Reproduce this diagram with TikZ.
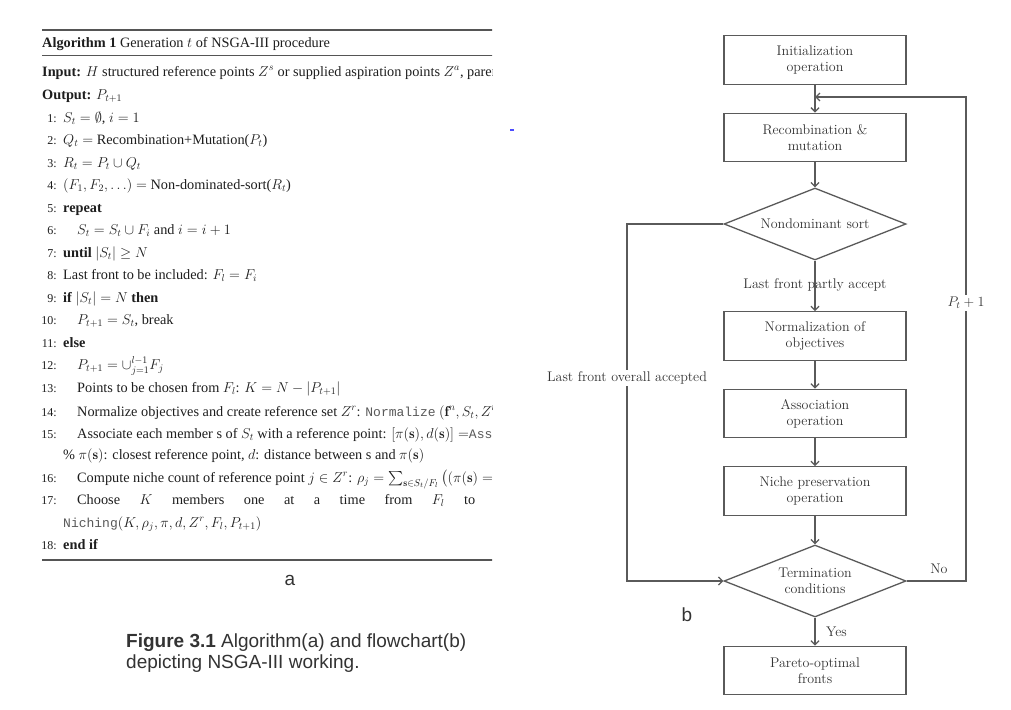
\RequirePackage{fix-cm}
\documentclass[tikz,border=0pt]{standalone}
\usepackage{amsmath,amssymb}
\usepackage{fontspec}
\newfontfamily\algf{Liberation Serif}
\newfontfamily\sansf{Liberation Sans}
\newfontfamily\monof{Liberation Mono}
\usetikzlibrary{shapes.geometric,arrows.meta}
\definecolor{fcline}{HTML}{5A5A5A}
\definecolor{fctext}{HTML}{333333}
\definecolor{algtext}{HTML}{1E1E1E}
\definecolor{captc}{HTML}{333333}
\definecolor{rulec}{HTML}{555555}
\newcommand\AF{\algf\fontsize{14.3}{17}\selectfont}
\newcommand\NF{\algf\fontsize{12}{14}\selectfont}
\newcommand\FF{\fontsize{14}{16}\selectfont}
\newcommand\TTx[1]{{\monof\fontsize{13}{15}\selectfont\color{black!65}#1}}
\newcommand\aln[5]{%
  \node[lnum] (num#1) at (57,#2) {#3};
  \node[ltext] (txt#1) at (#4,#2) {#5};}
\tikzset{
  lnum/.style={anchor=base east,inner sep=0pt,font=\NF,text=algtext},
  ltext/.style={anchor=base west,inner sep=0pt,font=\AF,text=algtext},
  rulel/.style={draw=rulec,line width=1.2pt},
  box/.style={draw=fcline,line width=1.3pt,minimum width=182pt,minimum height=48.5pt,
    align=center,font=\FF,text=fctext,inner sep=0pt},
  dec/.style={diamond,draw=fcline,line width=1.3pt,minimum width=182pt,minimum height=72pt,
    aspect=2.53,align=center,font=\FF,text=fctext,inner sep=0pt},
  arr/.style={draw=fcline,line width=1.3pt,-{Straight Barb[length=4pt,width=8pt]}},
  lab/.style={font=\FF,text=fctext,inner sep=1pt},
  capl/.style={anchor=base west,inner sep=0pt,text=captc,font=\sansf\fontsize{19}{22}\selectfont}
}
\begin{document}
\begin{tikzpicture}[x=1pt,y=-1pt]
\fill[white] (0,0) rectangle (1011,709);
\useasboundingbox (0,0) rectangle (1011,709);

% ---------------- Algorithm (a) ----------------
\begin{scope}
\clip (0,0) rectangle (492,709);
\draw[rulel,line width=1.5pt] (42,30) -- (493,30);
\draw[rulel,line width=1pt] (42,56) -- (493,56);
\node[ltext] (title) at (42,48) {\textbf{Algorithm 1} Generation $t$ of NSGA-III procedure};
\node[ltext] (input) at (42,76) {\textbf{Input:} $H$ structured reference points $Z^s$ or supplied aspiration points $Z^a$, parent population $P_t$};
\node[ltext] (output) at (42,99.5) {\textbf{Output:} $P_{t+1}$};
\aln{1}{122}{1:}{63}{$S_t=\emptyset$, $i=1$}
\aln{2}{144.5}{2:}{63}{$Q_t=$ Recombination+Mutation($P_t$)}
\aln{3}{167}{3:}{63}{$R_t=P_t\cup Q_t$}
\aln{4}{189.5}{4:}{63}{$(F_1,F_2,\ldots)=$ Non-dominated-sort($R_t$)}
\aln{5}{212}{5:}{63}{\textbf{repeat}}
\aln{6}{234.5}{6:}{77}{$S_t=S_t\cup F_i$ and $i=i+1$}
\aln{7}{257}{7:}{63}{\textbf{until} $|S_t|\geq N$}
\aln{8}{279.5}{8:}{63}{Last front to be included: $F_l=F_i$}
\aln{9}{302}{9:}{63}{\textbf{if} $|S_t|=N$ \textbf{then}}
\aln{10}{324.5}{10:}{77}{$P_{t+1}=S_t$, break}
\aln{11}{347}{11:}{63}{\textbf{else}}
\aln{12}{369.5}{12:}{77}{$P_{t+1}=\cup_{j=1}^{l-1}F_j$}
\aln{13}{392}{13:}{77}{Points to be chosen from $F_l$: $K=N-|P_{t+1}|$}
\aln{14}{416}{14:}{77}{Normalize objectives and create reference set $Z^r$: \TTx{Normalize} $(\mathbf{f}^n,S_t,Z^r,Z^s,Z^a)$}
\aln{15}{438.5}{15:}{77}{Associate each member s of $S_t$ with a reference point: $[\pi(\mathbf{s}),d(\mathbf{s})]=$\TTx{Associate}$(S_t,Z^r)$}
\node[ltext] (pct) at (63,459.5) {\% $\pi(\mathbf{s})$: closest reference point, $d$: distance between s and $\pi(\mathbf{s})$};
\aln{16}{482}{16:}{77}{Compute niche count of reference point $j\in Z^r$: $\rho_j=\sum_{\mathbf{s}\in S_t/F_l}\big((\pi(\mathbf{s})=j)\ ?\ 1:0\big)$}
\aln{17}{504.5}{17:}{77}{\hbox to 398pt{Choose\hfill $K$\hfill members\hfill one\hfill at\hfill a\hfill time\hfill from\hfill $F_l$\hfill to}}
\node[ltext] (niching) at (63,527) {\TTx{Niching}$(K,\rho_j,\pi,d,Z^r,F_l,P_{t+1})$};
\aln{18}{549.5}{18:}{63}{\textbf{end if}}
\draw[rulel] (42,560) -- (493,560);
\end{scope}

\node[inner sep=0pt,text=captc,font=\sansf\fontsize{19}{22}\selectfont] (la) at (290,580) {a};
\node[capl] (cap1) at (126,647) {\textbf{Figure 3.1} Algorithm(a) and flowchart(b)};
\node[capl] (cap2) at (126,668) {depicting NSGA-III working.};
\draw[blue!70,line width=1.3pt] (510,130) -- (514,130);

% ---------------- Flowchart (b) ----------------
\node[box] (init) at (815,60) {Initialization\\operation};
\node[box] (recomb) at (815,137.5) {Recombination \&\\mutation};
\node[dec] (sort) at (815,224) {Nondominant sort};
\node[box] (norm) at (815,336) {Normalization of\\objectives};
\node[box] (assoc) at (815,413.5) {Association\\operation};
\node[box] (niche) at (815,491) {Niche preservation\\operation};
\node[dec] (term) at (815,581) {Termination\\conditions};
\node[box] (pareto) at (815,670.5) {Pareto-optimal\\fronts};

\coordinate (merge) at (815,97);
\coordinate (lc) at (627,224);
\coordinate (rc) at (966,581);

\draw[arr] (init) -- (recomb);
\draw[arr] (recomb) -- (sort);
\draw[arr] (sort) -- (norm);
\node[lab] (partly) at (815,285) {Last front partly accept};
\draw[arr] (norm) -- (assoc);
\draw[arr] (assoc) -- (niche);
\draw[arr] (niche) -- (term);
\draw[arr] (term) -- (pareto);
\node[lab,anchor=west] (yes) at (825,632) {Yes};
\draw[arr] (sort.west) -- (lc) |- (term.west);
\node[lab,fill=white,inner sep=2pt] (overall) at (627,378) {Last front overall accepted};
\draw[arr] (term.east) -- (rc) |- (merge);
\node[lab] (no) at (939,569) {No};
\node[lab,fill=white,inner sep=2pt] (pt1) at (966,303) {$P_t+1$};

\node[inner sep=0pt,text=captc,font=\sansf\fontsize{19}{22}\selectfont] (lb) at (687,615) {b};
\end{tikzpicture}
\end{document}
